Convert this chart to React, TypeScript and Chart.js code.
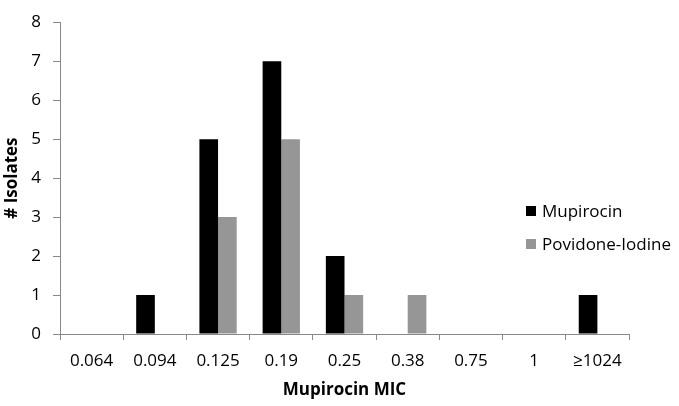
import React, { useEffect, useRef } from "react";
import { Chart, registerables } from "chart.js";

Chart.register(...registerables);

const categories = ["0.064", "0.094", "0.125", "0.19", "0.25", "0.38", "0.75", "1", "≥1024"];
const mupirocin = [0, 1, 5, 7, 2, 0, 0, 0, 1];
const povidoneIodine = [0, 0, 3, 5, 1, 1, 0, 0, 0];
const seriesNames = ["Mupirocin", "Povidone-Iodine"];
const seriesColors = ["#000000", "#969696"];
const yTitle = "# Isolates";
const xTitle = "Mupirocin MIC";

const FONT = "'Open Sans', sans-serif";
const AXIS = "#888888";

const legendPlugin = {
  id: "customLegend",
  afterDraw(chart: any) {
    const ctx = chart.ctx;
    ctx.save();
    const rows = [211, 244];
    ctx.font = `17px ${FONT}`;
    ctx.textBaseline = "middle";
    ctx.textAlign = "left";
    seriesNames.forEach((name, i) => {
      ctx.fillStyle = seriesColors[i];
      ctx.fillRect(526, rows[i] - 5, 10, 10);
      ctx.fillStyle = "#000";
      ctx.fillText(name, 542, rows[i] + 1);
    });
    ctx.restore();
  },
};

export default function App() {
  const ref = useRef<HTMLCanvasElement>(null);
  useEffect(() => {
    document.body.style.margin = "0";
    const chart = new Chart(ref.current!, {
      type: "bar",
      data: {
        labels: categories,
        datasets: [
          { label: seriesNames[0], data: mupirocin, backgroundColor: seriesColors[0], categoryPercentage: 0.59, barPercentage: 1 },
          { label: seriesNames[1], data: povidoneIodine, backgroundColor: seriesColors[1], categoryPercentage: 0.59, barPercentage: 1 },
        ],
      },
      options: {
        animation: false,
        responsive: false,
        devicePixelRatio: 1,
        layout: { padding: { left: 0, right: 50, top: 13, bottom: 0 } },
        plugins: { legend: { display: false }, tooltip: { enabled: false } },
        scales: {
          x: {
            offset: true,
            grid: { display: true, offset: true, drawOnChartArea: false, drawTicks: true, tickLength: 6, color: AXIS },
            border: { display: true, color: AXIS },
            ticks: { color: "#000", font: { family: FONT, size: 17 }, padding: 11, maxRotation: 0, autoSkip: false },
            title: { display: true, text: xTitle, color: "#000", font: { family: FONT, size: 17, weight: "bold" }, padding: { top: 4, bottom: 6 } },
            afterFit: (s: any) => { s.height = 72; },
          },
          y: {
            min: 0,
            max: 8,
            ticks: { stepSize: 1, color: "#000", font: { family: FONT, size: 17 }, padding: 12 },
            grid: { display: true, drawOnChartArea: false, drawTicks: true, tickLength: 7, color: AXIS },
            border: { display: true, color: AXIS },
            title: { display: true, text: yTitle, color: "#000", font: { family: FONT, size: 17, weight: "bold" }, padding: { top: 2, bottom: 4 } },
            afterFit: (s: any) => { s.width = 60; },
          },
        },
      },
      plugins: [legendPlugin],
    });
    return () => chart.destroy();
  }, []);
  return <canvas ref={ref} width={679} height={406} style={{ display: "block" }} />;
}
